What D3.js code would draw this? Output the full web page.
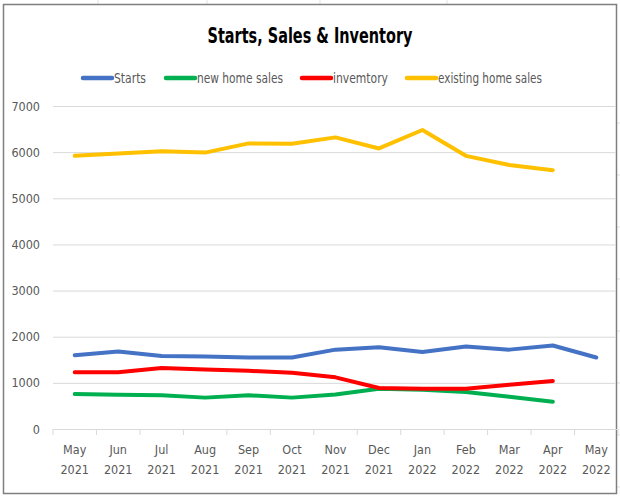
<!DOCTYPE html>
<html>
<head>
<meta charset="utf-8">
<title>Starts, Sales & Inventory</title>
<script src="https://cdn.jsdelivr.net/npm/d3@7"></script>
<style>
  html, body { margin: 0; padding: 0; background: #fff; }
  text { font-family: "DejaVu Sans Condensed", "DejaVu Sans", sans-serif; font-stretch: condensed; }
</style>
</head>
<body>
<div id="chart"></div>
<script>
// data
const months = ["May 2021", "Jun 2021", "Jul 2021", "Aug 2021", "Sep 2021", "Oct 2021",
  "Nov 2021", "Dec 2021", "Jan 2022", "Feb 2022", "Mar 2022", "Apr 2022", "May 2022"];
const starts = [1600, 1680, 1580, 1570, 1550, 1550, 1720, 1770, 1670, 1790, 1720, 1810, 1550];
const newHomeSales = [760, 740, 730, 680, 730, 680, 750, 870, 850, 800, 700, 590, null];
const inventory = [1230, 1230, 1320, 1290, 1260, 1220, 1120, 890, 870, 870, 960, 1040, null];
const existingSales = [5920, 5970, 6020, 5990, 6190, 6180, 6320, 6080, 6480, 5920, 5720, 5610, null];
const yTicks = [0, 1000, 2000, 3000, 4000, 5000, 6000, 7000];

const series = [
  { name: "Starts", values: starts, color: "#4472C4" },
  { name: "new home sales", values: newHomeSales, color: "#00B050" },
  { name: "invemtory", values: inventory, color: "#FF0000" },
  { name: "existing home sales", values: existingSales, color: "#FFC000" }
];

const W = 620, H = 498;
const plot = { left: 53, right: 618, top: 106, bottom: 429 };

const svg = d3.select("#chart").append("svg")
  .attr("width", W).attr("height", H);

// faint sheet cell lines around the chart
const sheet = svg.append("g").attr("stroke", "#e3e3e3");
[98, 207, 320, 447].forEach(v => sheet.append("line").attr("x1", v).attr("x2", v).attr("y1", 0).attr("y2", 4));
[123, 175, 227, 279, 331, 383, 435, 487].forEach(v => sheet.append("line").attr("x1", 617).attr("x2", 620).attr("y1", v).attr("y2", v));

// chart frame
svg.append("rect")
  .attr("x", 3.5).attr("y", 4.5)
  .attr("width", 613).attr("height", 489)
  .attr("fill", "#fff")
  .attr("stroke", "#7f7f7f").attr("stroke-width", 1.5);

const x = d3.scaleBand().domain(months).range([plot.left, plot.right]).padding(0);
const y = d3.scaleLinear().domain([0, 7000]).range([plot.bottom, plot.top]);

// y axis (gridlines + labels)
const yAxis = svg.append("g")
  .attr("transform", `translate(${plot.left},0)`)
  .call(d3.axisLeft(y).tickValues(yTicks).tickFormat(d3.format("d"))
    .tickSize(-(plot.right - plot.left - 2)).tickPadding(13));
yAxis.select(".domain").remove();
yAxis.selectAll(".tick line").attr("stroke", "#d9d9d9").attr("stroke-width", 1);
yAxis.selectAll(".tick text").attr("fill", "#595959")
  .style("font-size", "12.5px").style("font-family", "DejaVu Sans Condensed");

// x axis
const xAxis = svg.append("g")
  .attr("transform", `translate(0,${plot.bottom})`)
  .call(d3.axisBottom(x).tickSize(0).tickFormat(""));
xAxis.select(".domain").attr("stroke", "#d9d9d9");
xAxis.selectAll(".tick").remove();

// tick marks at category boundaries
const bounds = months.map(m => x(m)).concat([x(months[months.length - 1]) + x.bandwidth()]);
svg.append("g").selectAll("line").data(bounds).join("line")
  .attr("x1", d => d).attr("x2", d => d)
  .attr("y1", plot.bottom).attr("y2", plot.bottom + 6)
  .attr("stroke", "#d9d9d9");

// two-line category labels
const lbl = svg.append("g").selectAll("text").data(months).join("text")
  .attr("x", d => x(d) + x.bandwidth() / 2)
  .attr("text-anchor", "middle")
  .attr("fill", "#595959")
  .style("font-size", "12.5px");
lbl.append("tspan").attr("x", d => x(d) + x.bandwidth() / 2).attr("y", 454).text(d => d.split(" ")[0]);
lbl.append("tspan").attr("x", d => x(d) + x.bandwidth() / 2).attr("y", 474).text(d => d.split(" ")[1]);

// lines
const line = d3.line()
  .defined(d => d.v != null)
  .x(d => x(d.m) + x.bandwidth() / 2)
  .y(d => y(d.v));

svg.append("g").selectAll("path").data(series).join("path")
  .attr("fill", "none")
  .attr("stroke", d => d.color)
  .attr("stroke-width", 4)
  .attr("stroke-linejoin", "round")
  .attr("stroke-linecap", "round")
  .attr("d", d => line(d.values.map((v, i) => ({ m: months[i], v }))));

// title
svg.append("text")
  .attr("x", 310).attr("y", 43)
  .attr("text-anchor", "middle")
  .attr("fill", "#000")
  .attr("textLength", 205).attr("lengthAdjust", "spacingAndGlyphs")
  .style("font-size", "21px").style("font-weight", "bold")
  .text("Starts, Sales & Inventory");

// legend
const legendX = [83, 166, 302, 407];
const legendW = [32, 86, 55, 104];
const leg = svg.append("g").selectAll("g").data(series).join("g")
  .attr("transform", (d, i) => `translate(${legendX[i]},78)`);
leg.append("line")
  .attr("x1", 0).attr("x2", 29).attr("y1", 0).attr("y2", 0)
  .attr("stroke", d => d.color).attr("stroke-width", 4.5).attr("stroke-linecap", "round");
leg.append("text")
  .attr("x", 31).attr("y", 5)
  .attr("fill", "#595959")
  .attr("textLength", (d, i) => legendW[i]).attr("lengthAdjust", "spacingAndGlyphs")
  .style("font-size", "14px")
  .text(d => d.name);
</script>
</body>
</html>
